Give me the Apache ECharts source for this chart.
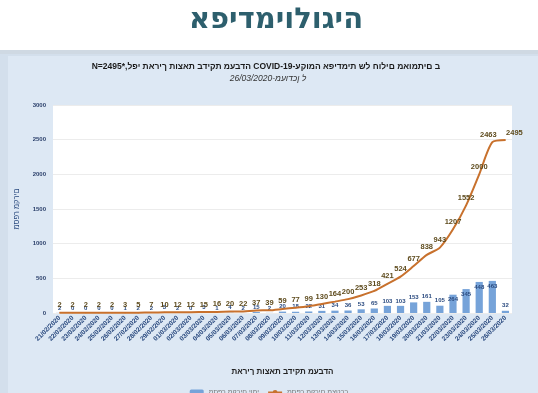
<!DOCTYPE html>
<html><head><meta charset="utf-8">
<script src="https://cdn.jsdelivr.net/npm/echarts@6/dist/echarts.min.js"></script>
<style>html,body{margin:0;padding:0;background:#fff}#c{position:absolute;left:0;top:0;width:538px;height:393px}</style>
</head><body><div id="c"></div>
<script>
var categories = ['21/02/2020','22/02/2020','23/02/2020','24/02/2020','25/02/2020','26/02/2020','27/02/2020','28/02/2020','29/02/2020',
 '01/03/2020','02/03/2020','03/03/2020','04/03/2020','05/03/2020','06/03/2020','07/03/2020','08/03/2020','09/03/2020','10/03/2020',
 '11/03/2020','12/03/2020','13/03/2020','14/03/2020','15/03/2020','16/03/2020','17/03/2020','18/03/2020','19/03/2020','20/03/2020',
 '21/03/2020','22/03/2020','23/03/2020','24/03/2020','25/03/2020','26/03/2020'];
var daily = [2,0,0,0,0,1,2,2,3,2,0,3,1,4,2,15,2,20,18,22,31,34,36,53,65,103,103,153,161,105,264,345,448,463,32];
var cumulative = [2,2,2,2,2,3,5,7,10,12,12,15,16,20,22,37,39,59,77,99,130,164,200,253,318,421,524,677,838,943,1207,1552,2000,2463,2495];
var yTicks = [0,500,1000,1500,2000,2500,3000];

var headingText = 'אפידמיולוגיה';
var titleText = 'עקומה אפידמית של חולים מאומתים ב-COVID-19 לפי תאריך תוצאת בדיקת מעבדה,*N=2495';
var subtitleText = 'מעודכן ל-26/03/2020';
var xName = 'תאריך תוצאת בדיקת מעבדה';
var yName = 'מספר מקרים';
var dailyName = 'מספר מקרים יומי';
var cumName = 'מספר מקרים מצטבר';

// Simple RTL paragraph reordering (the renderer draws text in logical order)
function vis(s){
  var re = /[A-Za-z0-9](?:[A-Za-z0-9\-=\/.]*[A-Za-z0-9])?/g, out = [], last = 0, m;
  while ((m = re.exec(s)) !== null) {
    if (m.index > last) out.push(s.slice(last, m.index).split('').reverse().join(''));
    out.push(m[0]);
    last = m.index + m[0].length;
  }
  if (last < s.length) out.push(s.slice(last).split('').reverse().join(''));
  return out.reverse().join('');
}

var n = cumulative.length;
var cumData = cumulative.map(function(v, i){
  var d = {value:v};
  if (i === n - 1) d.label = {offset:[9,0]};
  else if (i === n - 2) d.label = {offset:[-4,0]};
  return d;
});

var chart = echarts.init(document.getElementById('c'), null, {renderer:'canvas'});
chart.setOption({
  animation:false,
  backgroundColor:'#ffffff',
  graphic:[
    {type:'rect',shape:{x:0,y:50,width:538,height:343},style:{fill:'#cfd9e3'},z:-10},
    {type:'rect',shape:{x:0,y:54,width:538,height:339},style:{fill:'#d3dfec'},z:-9},
    {type:'rect',shape:{x:8,y:56,width:530,height:337},style:{fill:'#dde8f4'},z:-8},
    {type:'text',x:276,y:6,style:{text:vis(headingText),align:'center',font:'bold 29px "DejaVu Sans", "Liberation Sans", sans-serif',fill:'#2d5f6d',shadowColor:'rgba(0,0,0,0.45)',shadowBlur:3,shadowOffsetX:2,shadowOffsetY:2},z:10},
    {type:'text',x:266,y:62,style:{text:vis(titleText),align:'center',font:'bold 8.5px "Liberation Sans", Arial, sans-serif',fill:'#1a1a1a'},z:10},
    {type:'text',x:268,y:74,style:{text:vis(subtitleText),align:'center',font:'italic 8.5px "Liberation Sans", Arial, sans-serif',fill:'#333'},z:10}
  ],
  grid:{left:53,right:26,top:105,height:208,show:true,backgroundColor:'#ffffff',borderWidth:0},
  legend:{bottom:-8,left:'center',itemWidth:14,itemHeight:6,textStyle:{fontSize:7,color:'#777'},data:[vis(dailyName),vis(cumName)]},
  xAxis:{type:'category',data:categories,
    name:vis(xName),nameLocation:'middle',nameGap:55,
    nameTextStyle:{fontSize:8,fontWeight:'bold',color:'#222',fontFamily:'"Liberation Sans", Arial, sans-serif'},
    axisLine:{show:false},axisTick:{show:false},
    axisLabel:{interval:0,rotate:45,fontSize:6.5,fontWeight:'bold',color:'#2a4a7f',margin:4,fontFamily:'"Liberation Sans", Arial, sans-serif'}},
  yAxis:{type:'value',min:0,max:3000,interval:500,
    name:vis(yName),nameLocation:'middle',nameGap:32,nameRotate:90,nameMoveOverlap:false,
    nameTextStyle:{fontSize:7.5,color:'#2a4a7f',fontFamily:'"Liberation Sans", Arial, sans-serif'},
    axisLine:{show:false},axisTick:{show:false},
    axisLabel:{fontSize:6,fontWeight:'bold',color:'#2a3f6a',margin:7,
      formatter:function(v){return yTicks.indexOf(v)>=0?String(v):'';}},
    splitLine:{lineStyle:{color:'#ececec',width:1}}},
  series:[
    {name:vis(dailyName),type:'bar',barWidth:'55%',
     data:daily.map(function(v){return {value:v,label:{position:v>200?'insideTop':'top',distance:2}};}),
     itemStyle:{color:'#76a3d9'},
     label:{show:true,fontSize:6,fontWeight:'bold',color:'#2a4a7f'}},
    {name:vis(cumName),type:'line',smooth:0.25,data:cumData,showSymbol:true,symbol:'circle',symbolSize:1,
     lineStyle:{color:'#c8712d',width:2},itemStyle:{color:'#c8712d'},
     label:{show:true,position:'top',distance:3,fontSize:7.5,fontWeight:'bold',color:'#5e4b1d'}}
  ]
});
</script></body></html>
